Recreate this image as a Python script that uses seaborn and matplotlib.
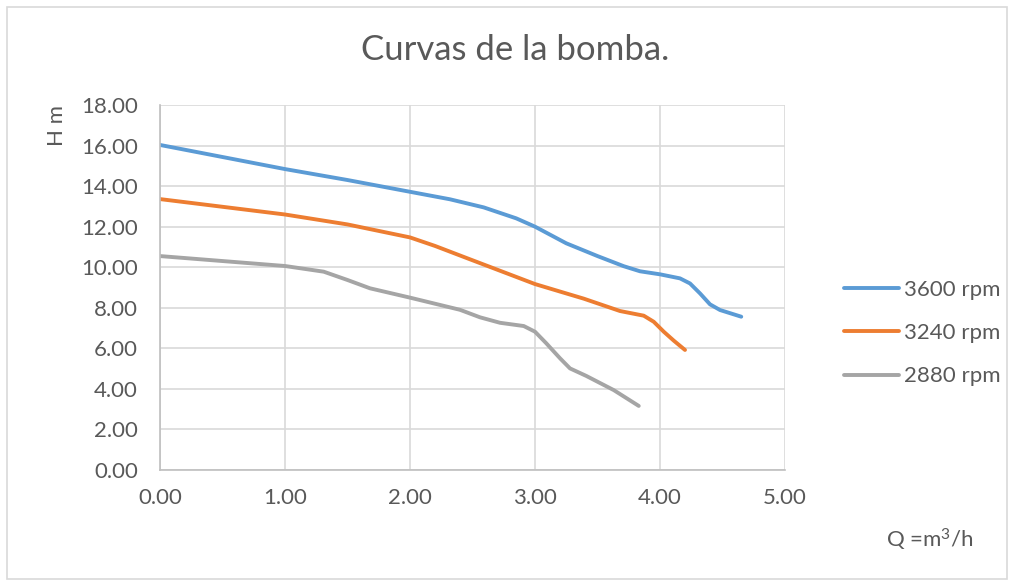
import matplotlib
matplotlib.use("Agg")
import matplotlib.pyplot as plt
import seaborn as sns
import pandas as pd

# Data
q_3600 = [0.00, 1.00, 1.50, 2.00, 2.32, 2.59, 2.85, 3.00, 3.25, 3.50, 3.71, 3.84, 4.00, 4.16,
          4.24, 4.32, 4.40, 4.48, 4.65]
h_3600 = [16.03, 14.84, 14.30, 13.72, 13.35, 12.95, 12.41, 12.00, 11.18, 10.55, 10.05, 9.80, 9.65, 9.45,
          9.20, 8.71, 8.17, 7.89, 7.56]

q_3240 = [0.00, 1.00, 1.50, 2.00, 2.20, 2.48, 3.00, 3.20, 3.39, 3.68, 3.87, 3.95, 4.03, 4.11, 4.20]
h_3240 = [13.36, 12.60, 12.11, 11.47, 11.05, 10.39, 9.17, 8.80, 8.45, 7.84, 7.61, 7.31, 6.82, 6.38, 5.92]

q_2880 = [0.00, 1.00, 1.31, 1.50, 1.68, 2.00, 2.40, 2.56, 2.72, 2.91, 3.00, 3.09, 3.20, 3.28,
          3.41, 3.63, 3.83]
h_2880 = [10.55, 10.06, 9.78, 9.37, 8.96, 8.50, 7.90, 7.53, 7.26, 7.10, 6.82, 6.25, 5.51, 5.01,
          4.64, 3.94, 3.16]

series_names = ["3600 rpm", "3240 rpm", "2880 rpm"]
colors = ["#5B9BD5", "#ED7D31", "#A5A5A5"]
x_ticks = [0, 1, 2, 3, 4, 5]
y_ticks = [0, 2, 4, 6, 8, 10, 12, 14, 16, 18]

frames = []
for name, q, h in zip(series_names, [q_3600, q_3240, q_2880], [h_3600, h_3240, h_2880]):
    frames.append(pd.DataFrame({"Q": q, "H": h, "serie": name}))
df = pd.concat(frames, ignore_index=True)

sns.set_theme(style="white")
plt.rcParams["font.family"] = ["Lato", "DejaVu Sans"]
plt.rcParams["mathtext.fontset"] = "custom"
plt.rcParams["mathtext.rm"] = "Lato"
plt.rcParams["mathtext.it"] = "Lato"
plt.rcParams["mathtext.bf"] = "Lato"
txt = "#595959"

fig = plt.figure(figsize=(10.14, 5.86), dpi=100)
ax = fig.add_axes([160/1014, 1 - 470/586, (785-160)/1014, (470-105)/586])

sns.lineplot(data=df, x="Q", y="H", hue="serie", hue_order=series_names,
             palette=colors, sort=False, linewidth=2.8, ax=ax, legend=True,
             solid_capstyle="round", solid_joinstyle="round")

ax.set_xlim(0, 5)
ax.set_ylim(0, 18)
ax.set_xticks(x_ticks)
ax.set_yticks(y_ticks)
ax.set_xticklabels([f"{v:.2f}" for v in x_ticks], color=txt, fontsize=16)
ax.set_yticklabels([f"{v:.2f}" for v in y_ticks], color=txt, fontsize=16)
ax.tick_params(axis="x", length=0, pad=13)
ax.tick_params(axis="y", length=0, pad=16)
ax.grid(True, color="#D9D9D9", linewidth=1.2)
for s in ["top", "right"]:
    ax.spines[s].set_visible(False)
for s in ["left", "bottom"]:
    ax.spines[s].set_color("#BFBFBF")
    ax.spines[s].set_linewidth(1.2)
ax.set_xlabel("")
ax.set_ylabel("")

leg = ax.legend(loc="center left", bbox_to_anchor=(1.062, 0.375), frameon=False,
                fontsize=16, handlelength=2.5, handletextpad=0.2, labelspacing=1.05)
for t in leg.get_texts():
    t.set_color(txt)
for l in leg.get_lines():
    l.set_linewidth(2.8)

fig.text(515/1014, 1 - 50/586, "Curvas de la bomba.", ha="center", va="center",
         fontsize=25, color=txt)
fig.text(57/1014, 1 - 125/586, "H m", ha="center", va="center", rotation=90,
         fontsize=16, color=txt)
fig.text(930/1014, 1 - 540/586, r"Q =m$\mathrm{^{3}}$/h", ha="center", va="center",
         fontsize=16, color=txt)

border = plt.Rectangle((7/1014, 7/586), 1 - 14/1014, 1 - 14/586, transform=fig.transFigure,
                       fill=False, edgecolor="#D9D9D9", linewidth=1.2)
fig.patches.append(border)

fig.savefig("out.png", dpi=100)
